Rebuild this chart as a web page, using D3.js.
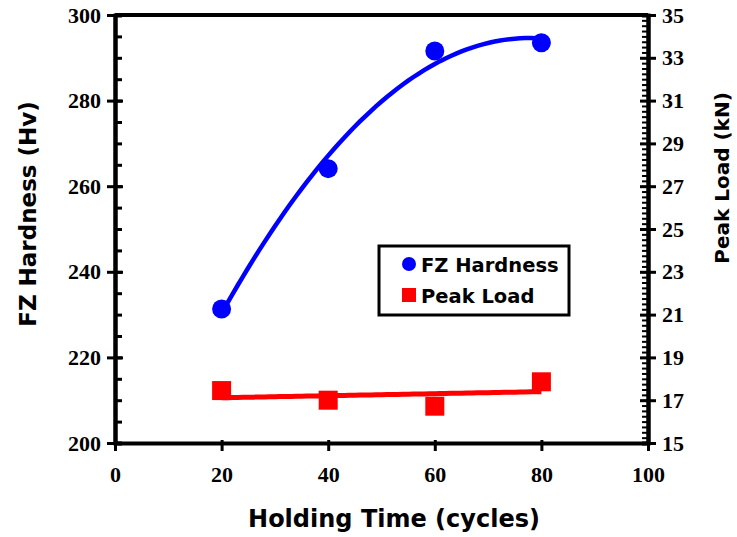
<!DOCTYPE html>
<html>
<head>
<meta charset="utf-8">
<script src="https://cdn.jsdelivr.net/npm/d3@7"></script>
<style>
  body { margin: 0; background: #fff; }
  .tick text { font-family: "Liberation Serif", "Times New Roman", serif; font-weight: bold; font-size: 22px; fill: #000; }
  .title { font-family: "DejaVu Sans", Verdana, sans-serif; font-weight: bold; fill: #000; }
</style>
</head>
<body>
<div id="chart"></div>
<script>
var width = 737;
var height = 537;

// data
var holdingTime = [20, 40, 60, 80];
var fzHardness = [231.3, 264.1, 291.6, 293.5];
var peakLoad = [17.45, 17.0, 16.72, 17.86];

var xTicks = [0, 20, 40, 60, 80, 100];
var leftTicks = [200, 220, 240, 260, 280, 300];
var rightTicks = [15, 17, 19, 21, 23, 25, 27, 29, 31, 33, 35];

var plotLeft = 115, plotRight = 648, plotTop = 15, plotBottom = 443;

var svg = d3.select("#chart")
  .append("svg")
  .attr("width", width)
  .attr("height", height);

var xScale = d3.scaleLinear().domain([0, 100]).range([plotLeft, plotRight]);
var yLeft = d3.scaleLinear().domain([200, 300]).range([plotBottom, plotTop]);
var yRight = d3.scaleLinear().domain([15, 35]).range([plotBottom, plotTop]);

// least squares polynomial fit (Excel style trendline)
function polyFit(xs, ys, deg) {
  var n = deg + 1;
  var A = [], b = [];
  for (var i = 0; i < n; i++) {
    A.push([]);
    for (var j = 0; j < n; j++) {
      A[i].push(d3.sum(xs, function(x) { return Math.pow(x, i + j); }));
    }
    b.push(d3.sum(xs, function(x, k) { return ys[k] * Math.pow(x, i); }));
  }
  // gaussian elimination
  for (var c = 0; c < n; c++) {
    for (var r = c + 1; r < n; r++) {
      var f = A[r][c] / A[c][c];
      for (var k = c; k < n; k++) A[r][k] -= f * A[c][k];
      b[r] -= f * b[c];
    }
  }
  var coef = new Array(n).fill(0);
  for (var r2 = n - 1; r2 >= 0; r2--) {
    var s = b[r2];
    for (var k2 = r2 + 1; k2 < n; k2++) s -= A[r2][k2] * coef[k2];
    coef[r2] = s / A[r2][r2];
  }
  return function(x) {
    return d3.sum(coef, function(a, p) { return a * Math.pow(x, p); });
  };
}

// plot frame top line
svg.append("line")
  .attr("x1", plotLeft).attr("x2", plotRight)
  .attr("y1", plotTop).attr("y2", plotTop)
  .attr("stroke", "#000").attr("stroke-width", 4);

function styleAxis(g, w) {
  g.select(".domain").attr("stroke", "#000").attr("stroke-width", w);
  g.selectAll(".tick line").attr("stroke", "#000").attr("stroke-width", 3);
}

// x axis
var gx = svg.append("g")
  .attr("transform", "translate(0," + plotBottom + ")")
  .call(d3.axisBottom(xScale).tickValues(xTicks).tickSize(8).tickSizeOuter(0).tickPadding(15));
styleAxis(gx, 4);
gx.selectAll(".tick line").attr("y1", -3);

// left axis: minor ticks inward, majors cross
var gLeftMinor = svg.append("g")
  .attr("transform", "translate(" + plotLeft + ",0)")
  .call(d3.axisLeft(yLeft).ticks(25).tickSize(-7).tickFormat(""));
styleAxis(gLeftMinor, 4);
var gLeft = svg.append("g")
  .attr("transform", "translate(" + plotLeft + ",0)")
  .call(d3.axisLeft(yLeft).tickValues(leftTicks).tickSize(8).tickSizeOuter(0).tickPadding(6));
styleAxis(gLeft, 4);
gLeft.selectAll(".tick line").attr("x2", 8).attr("x1", -8);

// right axis
var gRightMinor = svg.append("g")
  .attr("transform", "translate(" + plotRight + ",0)")
  .call(d3.axisRight(yRight).tickValues(d3.range(15, 35.01, 0.25)).tickSize(-6).tickFormat(""));
styleAxis(gRightMinor, 4);
gRightMinor.selectAll(".tick line").attr("stroke-width", 2);
var gRight = svg.append("g")
  .attr("transform", "translate(" + plotRight + ",0)")
  .call(d3.axisRight(yRight).tickValues(rightTicks).tickSize(8).tickSizeOuter(0).tickPadding(6));
styleAxis(gRight, 4);
gRight.selectAll(".tick line").attr("x1", -8);

// trend lines
var hardFit = polyFit(holdingTime, fzHardness, 2);
var loadFit = polyFit(holdingTime, peakLoad, 1);
var xs = d3.range(20, 80.01, 1);

svg.append("path")
  .datum(xs)
  .attr("fill", "none")
  .attr("stroke", "#0000ff")
  .attr("stroke-width", 4.5)
  .attr("d", d3.line()
    .x(function(d) { return xScale(d); })
    .y(function(d) { return yLeft(hardFit(d)); }));

svg.append("path")
  .datum(xs)
  .attr("fill", "none")
  .attr("stroke", "#ff0000")
  .attr("stroke-width", 5)
  .attr("d", d3.line()
    .x(function(d) { return xScale(d); })
    .y(function(d) { return yRight(loadFit(d)); }));

// markers
svg.selectAll("circle.fz")
  .data(holdingTime)
  .enter()
  .append("circle")
  .attr("class", "fz")
  .attr("cx", function(d) { return xScale(d); })
  .attr("cy", function(d, i) { return yLeft(fzHardness[i]); })
  .attr("r", 9.5)
  .attr("fill", "#0000ff");

var sq = 19;
svg.selectAll("rect.load")
  .data(holdingTime)
  .enter()
  .append("rect")
  .attr("class", "load")
  .attr("x", function(d) { return xScale(d) - sq / 2; })
  .attr("y", function(d, i) { return yRight(peakLoad[i]) - sq / 2; })
  .attr("width", sq)
  .attr("height", sq)
  .attr("fill", "#ff0000");

// axis titles
svg.append("text")
  .attr("class", "title")
  .attr("x", 394)
  .attr("y", 527)
  .attr("text-anchor", "middle")
  .attr("font-size", 24)
  .text("Holding Time (cycles)");

svg.append("text")
  .attr("class", "title")
  .attr("transform", "translate(36,214)rotate(-90)")
  .attr("text-anchor", "middle")
  .attr("font-size", 23)
  .text("FZ Hardness (Hv)");

svg.append("text")
  .attr("class", "title")
  .attr("transform", "translate(729,178)rotate(-90)")
  .attr("text-anchor", "middle")
  .attr("font-size", 20)
  .text("Peak Load (kN)");

// legend
var legend = svg.append("g");
legend.append("rect")
  .attr("x", 379).attr("y", 246)
  .attr("width", 190).attr("height", 69)
  .attr("fill", "#fff")
  .attr("stroke", "#000")
  .attr("stroke-width", 3);
legend.append("circle")
  .attr("cx", 409).attr("cy", 264).attr("r", 7)
  .attr("fill", "#0000ff");
legend.append("rect")
  .attr("x", 402).attr("y", 288).attr("width", 14).attr("height", 14)
  .attr("fill", "#ff0000");
legend.append("text")
  .attr("class", "title")
  .attr("x", 421).attr("y", 272)
  .attr("font-size", 19.5)
  .text("FZ Hardness");
legend.append("text")
  .attr("class", "title")
  .attr("x", 421).attr("y", 303)
  .attr("font-size", 19.5)
  .text("Peak Load");
</script>
</body>
</html>
